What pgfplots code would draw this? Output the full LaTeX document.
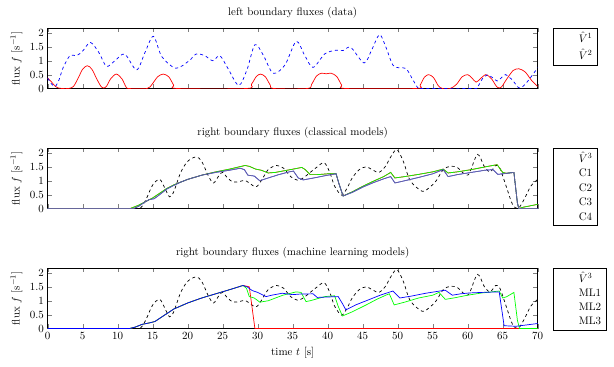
\documentclass[11pt,border=0pt]{standalone}
\usepackage{pgfplots}
\pgfplotsset{compat=1.18}

% data
\pgfplotstableread{
t v
0 0.38
0.5 0.25
1 0.1
1.5 0.02
2 0
3 0
3.7 0.08
4.4 0.4
5 0.7
5.65 0.82
6.3 0.7
7 0.35
7.6 0.08
8 0.02
8.4 0.08
9 0.35
9.8 0.52
10.6 0.35
11.2 0.05
11.6 0
14.2 0
14.9 0.15
15.7 0.42
16.5 0.52
17.3 0.42
18 0.12
18.5 0
28.4 0
29.1 0.15
29.8 0.43
30.4 0.52
31.1 0.42
31.8 0.12
32.3 0
37.1 0
37.7 0.15
38.4 0.45
39.1 0.55
39.8 0.53
40.5 0.55
41.3 0.43
42 0.12
42.6 0
52.6 0
53.2 0.12
53.8 0.4
54.4 0.5
55.1 0.4
55.8 0.1
56.4 0
57.5 0
58.4 0.15
59.2 0.42
60 0.5
60.6 0.38
61.2 0.23
61.8 0.35
62.6 0.5
63.4 0.35
64.2 0.05
64.8 0.05
65.6 0.35
66.5 0.65
67.3 0.71
68.2 0.6
69.1 0.3
70 0.07
}\datavone

\pgfplotstableread{
t v
0 0.37
0.5 0.18
1.05 0.07
1.6 0.3
2.2 0.75
3.2 1.19
4.1 1.18
5 1.35
6.1 1.66
7.3 1.3
8.4 0.8
9.6 1.0
11 1.24
12.7 0.67
13.9 1.3
15.1 1.88
16.3 1.15
18.3 0.73
20.2 1.0
21.2 1.24
22.4 1.19
23.6 1.0
24.6 1.18
25.8 0.7
27.3 0.11
28.5 0.7
29.6 1.58
30.8 1.2
32.2 0.55
33.9 0.85
35.5 1.7
36.7 1.2
37.9 0.76
39.6 1.25
41.2 1.38
42.2 1.37
43.3 1.48
45.2 0.92
46.3 1.4
47.4 1.94
48.3 1.5
49.3 0.85
50.3 0.74
51.2 0.72
52.2 0.3
52.9 0.02
53.5 0
60.8 0
61.4 0.05
62.1 0.35
62.8 0.49
63.5 0.4
64.2 0.27
64.8 0.38
65.4 0.5
66.4 0.3
67.3 0.02
68 0.1
69 0.4
70 0.75
}\datavtwo

\pgfplotstableread{
t v
0 0
12.5 0
13.3 0.03
14 0.3
15 0.85
16 1.05
16.7 0.75
17.4 0.42
18 0.6
19 1.3
20 1.7
21.2 1.86
22 1.7
23 1.15
23.7 0.92
24.5 1.2
25 1.3
25.7 1.1
26.5 0.95
27.5 0.98
28.3 1.0
29.7 0.78
30.5 1.0
31.5 1.4
32.7 1.55
33.7 1.45
34.7 1.15
35.7 1.02
36.5 1.1
37.5 1.3
38.5 1.5
39.5 1.65
40.3 1.3
41 0.8
42 0.48
42.8 0.75
43.5 1.1
44.5 1.4
45.5 1.5
46.5 1.38
47.3 1.3
48.2 1.5
49.1 1.9
49.9 2.12
50.8 1.7
51.8 1.0
53.5 0.62
54.5 0.75
55.5 1.0
56.5 1.4
57.5 1.52
58.5 1.48
59.5 1.25
60.2 1.25
61.4 1.95
62.4 1.5
63.2 1.32
64 1.55
64.6 1.45
65.5 0.8
66.4 0.15
67.2 0
68 0.3
69 0.8
70 1.05
}\datavthree

\pgfplotstableread{
t v
0 0
11.8 0
13 0.12
14 0.25
15 0.38
16 0.55
17 0.72
18 0.85
19 0.95
20 1.05
22 1.2
24 1.32
26 1.42
27 1.48
28.2 1.55
28.8 1.52
29.7 1.42
30.5 1.38
31.5 1.28
32.5 1.3
34 1.37
35.5 1.44
36.3 1.48
36.8 1.4
37.5 1.22
38.5 1.22
40 1.25
41.2 1.25
41.6 0.9
42.2 0.45
43.5 0.6
45 0.8
46.5 0.98
48 1.15
49 1.3
49.6 1.1
51 1.15
53 1.23
55 1.32
56.5 1.42
57.2 1.28
58.5 1.32
60.5 1.4
62.5 1.5
64.2 1.58
65 1.3
65.5 1.27
66.6 1.3
67.1 0.2
67.3 0
68 0.05
70 0.15
}\dataCtwo

\pgfplotstableread{
t v
0 0
12.3 0
13 0.08
14 0.25
14.5 0.32
15.2 0.35
16 0.5
17 0.7
18 0.83
19 0.95
20 1.05
22 1.2
24 1.3
26 1.38
27.5 1.45
28.1 1.4
28.6 1.2
29.5 1.17
30.3 1.0
31.5 1.1
33 1.22
34.5 1.32
35.1 1.35
35.8 1.1
36.5 1.03
38 1.1
40 1.2
41.2 1.25
41.6 0.9
42.2 0.45
43.5 0.58
45 0.77
46.5 0.93
48 1.07
49 1.15
49.6 0.92
51 1.0
53 1.12
55 1.25
56.5 1.4
57.2 1.15
58.5 1.22
60.5 1.3
62.5 1.38
63.6 1.4
64.3 1.23
65 1.25
66.6 1.3
67.1 0.2
67.3 0
70 0
}\dataCfour

\pgfplotstableread{
t v
0 0
11.7 0
12.5 0.05
13.5 0.15
14.5 0.2
15.3 0.25
16.5 0.45
18 0.7
20 0.92
22 1.1
24 1.25
26 1.4
27.9 1.55
28.5 1.52
28.8 1.5
29.6 0
70 0
}\dataMLone

\pgfplotstableread{
t v
0 0
11.7 0
12.5 0.05
13.5 0.15
14.5 0.2
15.3 0.25
16.5 0.45
18 0.7
20 0.92
22 1.1
24 1.25
26 1.4
27.9 1.55
28.4 1.45
28.8 1.15
29.5 1.1
30.3 0.95
31.5 1.0
33.6 1.2
35.5 1.32
36.2 1.3
36.9 0.97
37.5 1.0
39.6 1.15
41 1.18
41.5 0.8
42.1 0.45
43.5 0.6
45.5 0.85
47 1.05
48.3 1.2
48.8 1.25
49.5 0.85
51 0.95
53 1.1
55 1.2
55.9 1.3
56.8 1.05
58 1.1
60 1.2
62 1.28
64.5 1.35
65 1.1
65.6 1.15
66.6 1.3
67.1 0.3
67.4 0
70 0
}\dataMLtwo

\pgfplotstableread{
t v
0 0
11.7 0
12.5 0.05
13.5 0.15
14.5 0.2
15.3 0.25
16.5 0.45
18 0.7
20 0.92
22 1.1
24 1.25
26 1.4
27.9 1.55
28.5 1.5
29.2 1.37
30 1.3
31.2 1.15
32 1.2
33.5 1.27
35 1.22
36 1.24
37.9 1.25
38.5 1.12
41.5 1.15
42.1 0.9
42.6 0.67
44 0.85
45.5 1.0
47.5 1.2
49.3 1.35
50.3 1.1
52 1.17
54 1.27
56 1.35
56.8 1.38
57.8 1.2
59 1.25
60.2 1.28
62 1.3
64.5 1.32
65.2 0.1
66.9 0.08
70 0.18
}\dataMLthree

\pgfplotsset{
  legend image code/.code={%
    \pgfsetstrokecolor{white}%
    \draw[#1] (0pt,0pt) -- (20pt,0pt);},
  fluxaxis/.style={
    width=490pt, height=60.5pt, scale only axis,
    xmin=0, xmax=70, ymin=0, ymax=2.18,
    xtick={0,5,...,70},
    ytick={0,0.5,1,1.5,2},
    ylabel={flux $f$ $[\mathrm{s}^{-1}]$},
    legend style={at={(1.031,1)}, anchor=north west, legend cell align=left,
      row sep=1pt},
    every axis plot/.append style={line width=0.7pt},
  },
}

\begin{document}
\begin{tikzpicture}
\begin{axis}[fluxaxis, title={left boundary fluxes (data)}, xticklabels={}]
\addplot[red, smooth, tension=0.5] table {\datavone};
\addlegendentry{$\hat{V}^1$}
\addplot[blue, dashed, smooth, tension=0.5] table {\datavtwo};
\addlegendentry{$\hat{V}^2$}
\end{axis}

\begin{axis}[fluxaxis, at={(0,-120pt)}, title={right boundary fluxes (classical models)}, xticklabels={}]
\addplot[black, dashed, smooth, tension=0.5] table {\datavthree};
\addlegendentry{$\hat{V}^3$}
\addplot[red] table {\dataCtwo};
\addlegendentry{C1}
\addplot[green] table {\dataCtwo};
\addlegendentry{C2}
\addplot[blue] table {\dataCfour};
\addlegendentry{C3}
\addplot[gray, opacity=0.8] table {\dataCfour};
\addlegendentry{C4}
\end{axis}

\begin{axis}[fluxaxis, at={(0,-240pt)}, title={right boundary fluxes (machine learning models)}, xlabel={time $t$ $[\mathrm{s}]$}]
\addplot[black, dashed, smooth, tension=0.5] table {\datavthree};
\addlegendentry{$\hat{V}^3$}
\addplot[red] table {\dataMLone};
\addlegendentry{ML1}
\addplot[green] table {\dataMLtwo};
\addlegendentry{ML2}
\addplot[blue] table {\dataMLthree};
\addlegendentry{ML3}
\end{axis}
\pgfresetboundingbox
\path (-47.7pt,-278.5pt) rectangle (566.3pt,88.5pt);
\end{tikzpicture}
\end{document}
